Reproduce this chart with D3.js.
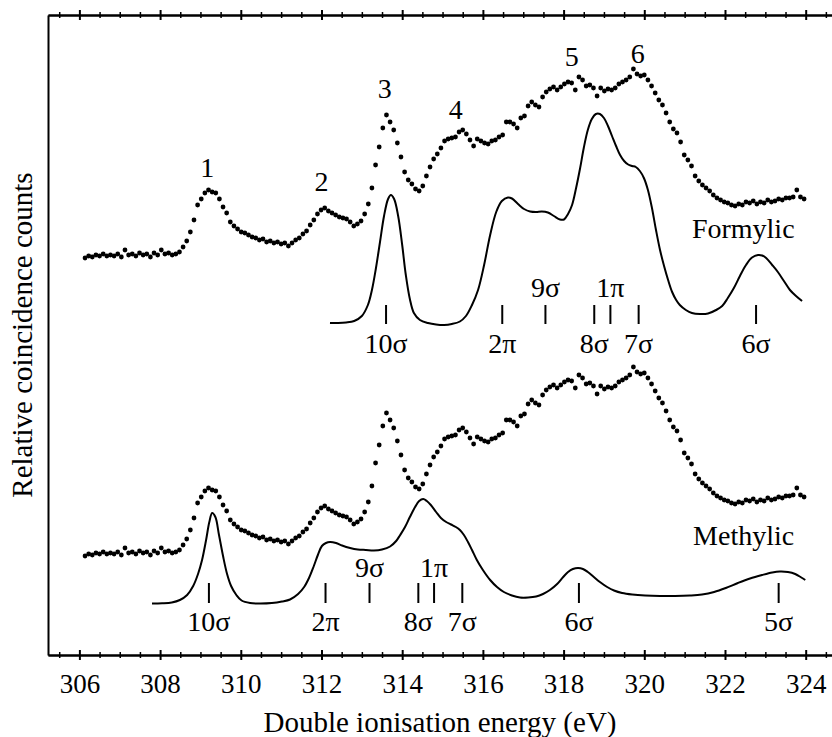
<!DOCTYPE html>
<html>
<head>
<meta charset="utf-8">
<script src="https://cdn.jsdelivr.net/npm/d3@7"></script>
<style>
  body { margin: 0; background: #fff; }
  text { font-family: "Liberation Serif", "Times New Roman", serif; fill: #000; }
</style>
</head>
<body>
<div id="chart"></div>
<script>

// experimental spectrum, sampled every 0.09 eV from 306.14 eV
const expStart=306.14;
const expStep=0.09;
const expCounts=[
    397, 399, 398, 400, 399, 401, 399, 400, 399, 401,
    398, 405, 400, 401, 399, 402, 400, 401, 398, 402,
    400, 405, 401, 402, 400, 401, 403, 408, 414, 423,
    435, 450, 456, 462, 465, 463, 462, 456, 448, 442,
    433, 429, 426, 423, 422, 420, 418, 417, 415, 416,
    413, 414, 412, 413, 411, 412, 409, 412, 415, 417,
    421, 424, 430, 435, 441, 445, 447, 444, 442, 440,
    438, 437, 436, 433, 429, 431, 434, 441, 451, 467,
    490, 508, 527, 540, 533, 525, 512, 498, 483, 475,
    471, 466, 464, 469, 479, 488, 496, 501, 507, 514,
    516, 517, 518, 523, 525, 521, 515, 509, 516, 514,
    512, 511, 514, 515, 518, 520, 533, 533, 531, 527,
    537, 539, 549, 553, 550, 548, 558, 563, 566, 568,
    565, 568, 571, 573, 572, 565, 578, 575, 569, 570,
    567, 559, 567, 564, 566, 565, 567, 571, 573, 575,
    578, 586, 581, 579, 580, 575, 569, 562, 555, 550,
    542, 533, 526, 522, 513, 500, 495, 489, 479, 474,
    470, 467, 464, 460, 457, 455, 453, 452, 450, 449,
    451, 450, 453, 452, 454, 451, 453, 452, 455, 453,
    454, 456, 455, 457, 457, 458, 465, 458, 456
];
const methylicShift=298;

// calculated spectra
const formylicE=[
    312.21, 312.41, 312.61, 312.81, 313.00, 313.15, 313.25, 313.35, 313.45, 313.55,
    313.65, 313.72, 313.80, 313.90, 314.00, 314.09, 314.19, 314.29, 314.44, 314.64,
    314.84, 315.04, 315.23, 315.43, 315.58, 315.73, 315.88, 316.03, 316.18, 316.33,
    316.47, 316.62, 316.72, 316.87, 317.02, 317.17, 317.32, 317.46, 317.61, 317.76,
    317.91, 318.01, 318.11, 318.21, 318.31, 318.41, 318.50, 318.60, 318.70, 318.80,
    318.90, 319.00, 319.10, 319.20, 319.30, 319.40, 319.50, 319.60, 319.70, 319.79,
    319.89, 319.99, 320.09, 320.19, 320.29, 320.39, 320.49, 320.59, 320.69, 320.79,
    320.88, 321.03, 321.18, 321.38, 321.58, 321.78, 321.93, 322.07, 322.22, 322.37,
    322.52, 322.67, 322.82, 322.92, 323.02, 323.17, 323.31, 323.46, 323.61, 323.76,
    323.91
];
const formylicI=[
    332, 332, 332.5, 334, 339, 350, 365, 387, 413, 439,
    456, 460, 456, 439, 410, 380, 356, 342, 335, 332,
    330.5, 330, 331, 333.5, 339, 350, 365, 390, 420, 443,
    454, 457.5, 456.5, 451, 446, 443.5, 443, 443.5, 442.5, 439,
    435.5, 435.5, 441, 450, 467, 487, 507, 525, 536, 541,
    541, 537, 529, 519, 509, 500, 494, 490.5, 489, 488,
    484, 477, 465, 447, 425, 405, 389, 375, 363, 355,
    350, 345, 342, 341, 341.5, 345, 349, 357, 367, 379,
    390, 397.5, 400, 399.5, 397, 390, 383, 374, 365, 359,
    354
];
const methylicE=[
    307.80, 308.05, 308.29, 308.49, 308.67, 308.82, 308.94, 309.04, 309.14, 309.22,
    309.29, 309.37, 309.46, 309.56, 309.66, 309.76, 309.89, 310.02, 310.23, 310.48,
    310.77, 311.02, 311.22, 311.42, 311.57, 311.69, 311.81, 311.91, 312.01, 312.11,
    312.21, 312.36, 312.51, 312.71, 312.90, 313.10, 313.30, 313.50, 313.70, 313.85,
    313.95, 314.07, 314.19, 314.32, 314.42, 314.52, 314.61, 314.71, 314.84, 314.96,
    315.09, 315.21, 315.33, 315.43, 315.53, 315.63, 315.73, 315.85, 316.00, 316.18,
    316.35, 316.52, 316.72, 316.92, 317.12, 317.32, 317.49, 317.66, 317.84, 317.99,
    318.11, 318.23, 318.36, 318.48, 318.60, 318.75, 318.90, 319.08, 319.25, 319.45,
    319.70, 320.02, 320.39, 320.76, 321.13, 321.43, 321.73, 322.02, 322.32, 322.62,
    322.92, 323.17, 323.36, 323.56, 323.74, 323.89, 323.99
];
const methylicI=[
    51.5, 51.7, 52.5, 55, 60, 69, 81, 95, 115, 133,
    142, 138, 120, 99, 81, 69, 60, 54.5, 52, 51.5,
    52, 53.5, 55.5, 61, 68, 77, 89, 100, 109, 112,
    113, 112, 109.5, 107, 105.5, 105, 104.5, 105.5, 108.5, 114,
    120, 128, 138, 148, 154, 156, 154, 150, 143, 137,
    133, 130.5, 128, 125, 120, 113, 105, 95, 85, 75,
    68, 63, 59.5, 57.5, 57.5, 58.5, 61, 65, 71, 78,
    83, 86, 87, 86, 83, 78, 73, 68, 64.5, 62,
    60.5, 59.5, 59, 59, 59.5, 60.5, 63, 67, 72, 76.5,
    80, 82.5, 83.5, 83, 81, 77.5, 75
];

// orbital assignments
const formylicOrbitals=["10σ", "2π", "9σ", "8σ", "1π", "7σ", "6σ"];
const formylicOrbitalE=[313.60, 316.48, 317.55, 318.76, 319.16, 319.86, 322.77];
const methylicOrbitals=["10σ", "2π", "9σ", "8σ", "1π", "7σ", "6σ", "5σ"];
const methylicOrbitalE=[309.21, 312.10, 313.19, 314.40, 314.79, 315.49, 318.38, 323.33];
const raisedOrbitals=["9σ", "1π"];

// numbered experimental bands
const bandLabels=["1", "2", "3", "4", "5", "6"];
const bandE=[309.17, 312.00, 313.57, 315.33, 318.20, 319.84];
const bandI=[478, 464, 557, 536, 589, 592];

const majorTicks=[306, 308, 310, 312, 314, 316, 318, 320, 322, 324];
const minorTicks=[305.5, 306.5, 307, 307.5, 308.5, 309, 309.5, 310.5, 311, 311.5, 312.5, 313, 313.5,
    314.5, 315, 315.5, 316.5, 317, 317.5, 318.5, 319, 319.5, 320.5, 321, 321.5, 322.5, 323, 323.5, 324.5];


const width=832, height=737;
const labelSize=28;
const serif="'Liberation Serif', 'Times New Roman', serif";

const svg=d3.select("#chart").append("svg")
    .attr("width", width)
    .attr("height", height);

const x=d3.scaleLinear().domain([305.222, 324.652]).range([48, 832]);
const y=d3.scaleLinear().domain([0, 640]).range([655, 15]);


// axes
function tickAxis (axisFn, ticks, size, yPos, showLabels) {
    const axis=axisFn(x).tickValues(ticks).tickSizeInner(size).tickSizeOuter(0);
    if (!showLabels) axis.tickFormat("");
    const g=svg.append("g")
        .attr("transform", `translate(0,${yPos})`)
        .call(axis)
        .attr("font-family", serif);
    g.select(".domain").attr("stroke-width", 2);
    g.selectAll(".tick line")
        .attr("y1", -size)
        .attr("y2", size)
        .attr("stroke-width", size>4? 2:1.5);
    return g;
}

const bottomMajor=tickAxis(d3.axisBottom, majorTicks, 5, 655, true);
tickAxis(d3.axisBottom, minorTicks, 3, 655, false);
tickAxis(d3.axisTop, majorTicks, 5, 15, false);
tickAxis(d3.axisTop, minorTicks, 3, 15, false);

bottomMajor.selectAll(".tick text")
    .attr("y", 38)
    .attr("dy", 0)
    .style("font-family", serif)
    .style("font-size", "27px");

svg.append("g")
    .attr("transform", "translate(48,0)")
    .call(d3.axisLeft(y).tickValues([]).tickSizeOuter(0))
    .select(".domain").attr("stroke-width", 2);

svg.append("text")
    .attr("x", (48+832)/2)
    .attr("y", 732)
    .attr("text-anchor", "middle")
    .style("font-size", "29px")
    .text("Double ionisation energy (eV)");

svg.append("text")
    .attr("transform", "translate(32,335) rotate(-90)")
    .attr("text-anchor", "middle")
    .style("font-size", "29px")
    .text("Relative coincidence counts");


// experimental points, drawn for both panels
const expPoints=expCounts.map((c, i) => ({e: expStart+i*expStep, c: c}));

[0, -methylicShift].forEach(shift => {
    svg.append("g")
        .selectAll("circle")
        .data(expPoints)
        .enter().append("circle")
        .attr("cx", d => x(d.e))
        .attr("cy", d => y(d.c+shift))
        .attr("r", 2.4)
        .attr("fill", "#000");
});


// calculated curves
const line=d3.line()
    .x(d => x(d[0]))
    .y(d => y(d[1]))
    .curve(d3.curveCatmullRom);

svg.append("path")
    .datum(d3.zip(formylicE, formylicI))
    .attr("d", line)
    .attr("fill", "none")
    .attr("stroke", "#000")
    .attr("stroke-width", 2);

svg.append("path")
    .datum(d3.zip(methylicE, methylicI))
    .attr("d", line)
    .attr("fill", "none")
    .attr("stroke", "#000")
    .attr("stroke-width", 2);


// orbital markers
function drawOrbitals (names, energies, markLow, markHigh, lowLabel, highLabel) {
    const g=svg.append("g");
    names.forEach((name, i) => {
        g.append("line")
            .attr("x1", x(energies[i]))
            .attr("x2", x(energies[i]))
            .attr("y1", y(markLow))
            .attr("y2", y(markHigh))
            .attr("stroke", "#000")
            .attr("stroke-width", 2);
        g.append("text")
            .attr("x", x(energies[i]))
            .attr("y", y(raisedOrbitals.includes(name)? highLabel:lowLabel))
            .attr("text-anchor", "middle")
            .style("font-size", labelSize+"px")
            .text(name);
    });
}

drawOrbitals(formylicOrbitals, formylicOrbitalE, 331, 350, 302, 358);
drawOrbitals(methylicOrbitals, methylicOrbitalE, 52, 72, 24, 78);


// band numbers and panel names
bandLabels.forEach((b, i) => {
    svg.append("text")
        .attr("x", x(bandE[i]))
        .attr("y", y(bandI[i]))
        .attr("text-anchor", "middle")
        .style("font-size", labelSize+"px")
        .text(b);
});

svg.append("text")
    .attr("x", x(321.18))
    .attr("y", y(417))
    .style("font-size", labelSize+"px")
    .text("Formylic");

svg.append("text")
    .attr("x", x(321.21))
    .attr("y", y(110))
    .style("font-size", labelSize+"px")
    .text("Methylic");

</script>
</body>
</html>
